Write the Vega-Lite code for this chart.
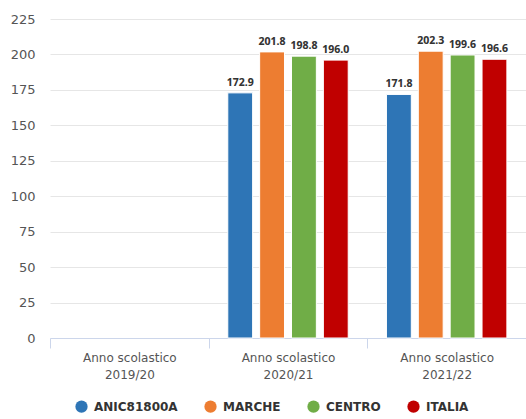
{
  "$schema": "https://vega.github.io/schema/vega-lite/v6.json",
  "width": 476,
  "height": 319,
  "autosize": {"type": "none"},
  "padding": {"left": 50, "top": 19, "right": 0, "bottom": 81},
  "background": "white",
  "data": {
    "values": [
      {"anno": "2020/21", "serie": "ANIC81800A", "valore": 172.9},
      {"anno": "2020/21", "serie": "MARCHE", "valore": 201.8},
      {"anno": "2020/21", "serie": "CENTRO", "valore": 198.8},
      {"anno": "2020/21", "serie": "ITALIA", "valore": 196.0},
      {"anno": "2021/22", "serie": "ANIC81800A", "valore": 171.8},
      {"anno": "2021/22", "serie": "MARCHE", "valore": 202.3},
      {"anno": "2021/22", "serie": "CENTRO", "valore": 199.6},
      {"anno": "2021/22", "serie": "ITALIA", "valore": 196.6}
    ]
  },
  "encoding": {
    "x": {
      "field": "anno",
      "type": "nominal",
      "scale": {"domain": ["2019/20", "2020/21", "2021/22"], "paddingInner": 0, "paddingOuter": 0},
      "axis": {
        "title": null,
        "labelAngle": 0,
        "labelExpr": "datum.label ? ['Anno scolastico', datum.label] : ''",
        "labelFont": "DejaVu Sans",
        "labelFontSize": 12,
        "labelColor": "#555555",
        "labelPadding": 4,
        "labelLineHeight": 17,
        "tickBand": "extent",
        "tickSize": 10,
        "tickColor": "#ccd6eb",
        "domainColor": "#ccd6eb",
        "grid": false
      }
    },
    "xOffset": {
      "field": "serie",
      "type": "nominal",
      "sort": ["ANIC81800A", "MARCHE", "CENTRO", "ITALIA"],
      "scale": {"paddingInner": 0.22, "paddingOuter": 0.6}
    },
    "y": {
      "field": "valore",
      "type": "quantitative",
      "scale": {"domain": [0, 225], "nice": false},
      "axis": {
        "title": null,
        "values": [0, 25, 50, 75, 100, 125, 150, 175, 200, 225],
        "domain": false,
        "ticks": false,
        "labelPadding": 15,
        "labelFont": "DejaVu Sans",
        "labelFontSize": 13,
        "labelColor": "#555555",
        "gridColor": "#e6e6e6"
      }
    }
  },
  "layer": [
    {
      "mark": {"type": "bar", "stroke": "white", "strokeWidth": 1},
      "encoding": {
        "color": {
          "field": "serie",
          "type": "nominal",
          "sort": ["ANIC81800A", "MARCHE", "CENTRO", "ITALIA"],
          "scale": {
            "domain": ["ANIC81800A", "MARCHE", "CENTRO", "ITALIA"],
            "range": ["#2e75b6", "#ed7d31", "#70ad47", "#c00000"]
          },
          "legend": {
            "title": null,
            "orient": "none",
            "direction": "horizontal",
            "legendX": 25,
            "legendY": 381,
            "symbolType": "circle",
            "symbolSize": 150,
            "symbolStrokeWidth": 0,
            "labelFont": "DejaVu Sans",
            "labelFontSize": 12,
            "labelFontWeight": "bold",
            "labelColor": "#333333",
            "columnPadding": 26,
            "labelOffset": 6
          }
        }
      }
    },
    {
      "mark": {
        "type": "text",
        "baseline": "bottom",
        "dy": -5,
        "font": "Open Sans",
        "fontSize": 10.5,
        "fontWeight": "bold",
        "fill": "#333333",
        "stroke": "white",
        "strokeWidth": 2,
        "strokeOpacity": 0.8
      },
      "encoding": {
        "text": {"field": "valore", "type": "quantitative", "format": ".1f"}
      }
    },
    {
      "mark": {
        "type": "text",
        "baseline": "bottom",
        "dy": -5,
        "font": "Open Sans",
        "fontSize": 10.5,
        "fontWeight": "bold",
        "fill": "#333333"
      },
      "encoding": {
        "text": {"field": "valore", "type": "quantitative", "format": ".1f"}
      }
    }
  ],
  "config": {"view": {"stroke": null}}
}
